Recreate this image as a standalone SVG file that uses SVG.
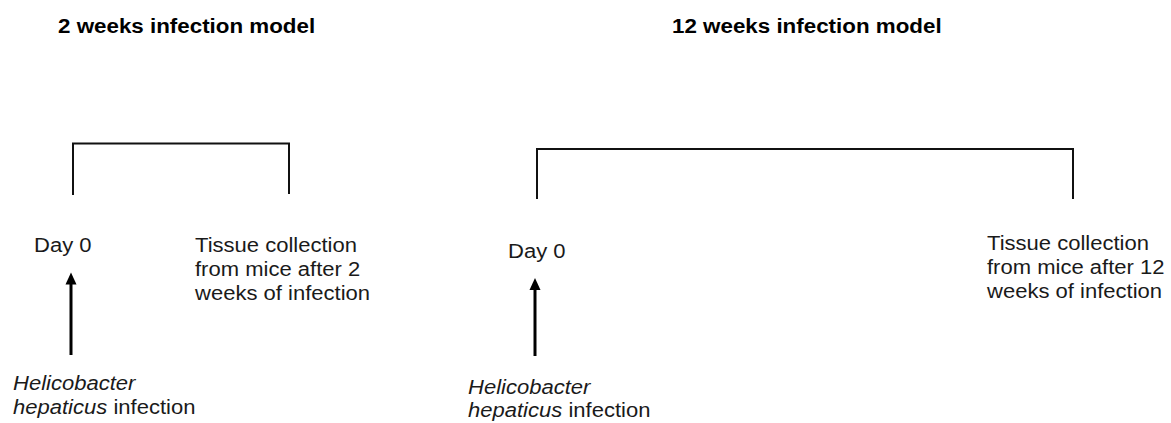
<svg xmlns="http://www.w3.org/2000/svg" width="1171" height="423" viewBox="0 0 1171 423">
<style>
.t{font-family:"Liberation Sans",Arial,sans-serif;font-size:19.5px;fill:#1a1a1a}
.b{font-weight:bold;font-size:19.8px;fill:#000}
.i{font-style:italic}
.br{fill:none;stroke:#111;stroke-width:2}
.sh{stroke:#000;stroke-width:3}
.hd{fill:#000}
</style>
<rect width="1171" height="423" fill="#fff"/>
<g id="title-2wk"><text class="t b" transform="translate(58,32.5) scale(1.13,1)">2 weeks infection model</text></g>
<g id="title-12wk"><text class="t b" transform="translate(672,32.5) scale(1.13,1)">12 weeks infection model</text></g>
<g id="day0-2wk"><text class="t" transform="translate(34,252) scale(1.13,1)">Day 0</text></g>
<g id="tissue-2wk"><text class="t" transform="translate(195,252) scale(1.13,1)"><tspan x="0" y="0">Tissue collection</tspan><tspan x="0" y="24">from mice after 2</tspan><tspan x="0" y="48">weeks of infection</tspan></text></g>
<g id="infection-2wk"><text class="t" transform="translate(13,390) scale(1.13,1)"><tspan x="0" y="0" class="i">Helicobacter</tspan><tspan x="0" y="24"><tspan class="i">hepaticus</tspan> infection</tspan></text></g>
<g id="day0-12wk"><text class="t" transform="translate(508,258) scale(1.13,1)">Day 0</text></g>
<g id="tissue-12wk"><text class="t" transform="translate(987,250) scale(1.13,1)"><tspan x="0" y="0">Tissue collection</tspan><tspan x="0" y="24">from mice after 12</tspan><tspan x="0" y="48">weeks of infection</tspan></text></g>
<g id="infection-12wk"><text class="t" transform="translate(468,394) scale(1.13,1)"><tspan x="0" y="0" class="i">Helicobacter</tspan><tspan x="0" y="23"><tspan class="i">hepaticus</tspan> infection</tspan></text></g>
<g id="connectors">
<path class="br" d="M73 195 V143.5 H289 V194"/>
<path class="br" d="M537 199 V149 H1073 V199"/>
<line class="sh" x1="71" y1="355" x2="71" y2="283"/>
<polygon class="hd" points="71,272.5 65.5,284.5 76.5,284.5"/>
<line class="sh" x1="535" y1="356" x2="535" y2="288"/>
<polygon class="hd" points="535,278 529.5,290 540.5,290"/>
</g>
</svg>
